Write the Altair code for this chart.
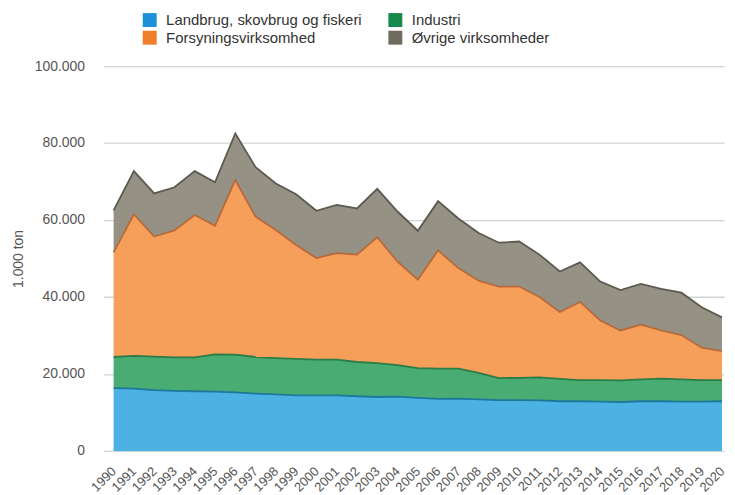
import altair as alt
import pandas as pd

years = list(range(1990, 2021))
series = ["Landbrug, skovbrug og fiskeri", "Industri", "Forsyningsvirksomhed", "Øvrige virksomheder"]

landbrug = [16.3, 16.2, 15.8, 15.6, 15.5, 15.4, 15.2, 14.9, 14.7, 14.4, 14.4, 14.4, 14.2, 14.0, 14.1, 13.8,
            13.5, 13.6, 13.4, 13.2, 13.2, 13.1, 12.9, 12.9, 12.8, 12.7, 12.9, 12.9, 12.8, 12.8, 12.9]
industri = [8.1, 8.5, 8.7, 8.7, 8.8, 9.7, 9.8, 9.5, 9.4, 9.5, 9.3, 9.3, 8.9, 8.8, 8.2, 7.7,
            7.9, 7.8, 6.9, 5.7, 5.8, 6.0, 5.8, 5.5, 5.6, 5.6, 5.7, 5.9, 5.8, 5.6, 5.5]
forsyning = [27.2, 36.8, 31.2, 33.0, 37.0, 33.4, 45.4, 36.5, 33.3, 29.6, 26.4, 27.7, 27.9, 32.7, 26.9, 23.0,
             30.7, 26.1, 23.9, 23.8, 23.7, 20.9, 17.4, 20.3, 15.5, 13.0, 14.2, 12.5, 11.5, 8.4, 7.5]
oevrige = [10.9, 11.2, 11.2, 11.2, 11.4, 11.3, 12.1, 12.8, 12.1, 13.2, 12.3, 12.5, 12.0, 12.6, 13.0, 12.7,
           12.8, 12.9, 12.4, 11.4, 11.7, 11.0, 10.5, 10.3, 10.1, 10.5, 10.6, 10.8, 11.0, 10.5, 8.8]

fill_colors = ["#42aee3", "#3ea86c", "#f59a52", "#8f8c7e"]
legend_colors = ["#1d92d8", "#17894c", "#f27d29", "#6f6b5e"]
edge_colors = ["#1d789c", "#2a7d46", "#b66a3b", "#5c5a50"]
y_ticks = [0, 20000, 40000, 60000, 80000, 100000]

rows = []
for k, (name, vals) in enumerate(zip(series, [landbrug, industri, forsyning, oevrige])):
    for yr, v in zip(years, vals):
        rows.append({"year": yr, "serie": name, "value": v * 1000, "k": k})
df = pd.DataFrame(rows)

x_enc = alt.X("year:Q", scale=alt.Scale(domain=[1989.5, 2020.1], nice=False, zero=False),
              axis=alt.Axis(values=years, format="d", labelAngle=315, labelAlign="right",
                            labelBaseline="middle", labelPadding=18, labelFontSize=13,
                            labelColor="#555555", grid=False, ticks=False, domain=False,
                            labelFont="Liberation Sans", labelOverlap=False),
              title=None)

areas = alt.Chart(df).mark_area(opacity=0.95).encode(
    x=x_enc,
    y=alt.Y("value:Q", stack="zero",
            scale=alt.Scale(domain=[0, 100000], nice=False),
            axis=alt.Axis(values=y_ticks, labelExpr="replace(format(datum.value, ','), ',', '.')",
                          labelFontSize=14, labelColor="#555555", labelFont="Liberation Sans",
                          labelPadding=19, ticks=False, domain=False, gridColor="#cfd3d6",
                          gridWidth=1.3, titleFontSize=14, titleColor="#555555",
                          titleFont="Liberation Sans", titleFontWeight="normal", titlePadding=9),
            title="1.000 ton"),
    color=alt.Color("serie:N", sort=series,
                    scale=alt.Scale(domain=series, range=fill_colors), legend=None),
    order=alt.Order("k:Q", sort="ascending"),
)

lines = alt.Chart(df).mark_line(strokeWidth=1.8).encode(
    x=x_enc,
    y=alt.Y("value:Q", stack="zero"),
    color=alt.Color("serie:N", sort=series, scale=alt.Scale(domain=series, range=edge_colors),
                    legend=None),
    order=alt.Order("k:Q", sort="ascending"),
    detail="serie:N",
)

legend_layer = alt.Chart(df).mark_square(opacity=0, size=1).encode(
    x=x_enc,
    y=alt.Y("value:Q", stack="zero"),
    color=alt.Color("serie:N", sort=series,
                    scale=alt.Scale(domain=series, range=legend_colors),
                    legend=alt.Legend(title=None, orient="none", legendX=39, legendY=-54,
                                      columns=2, symbolType="square", symbolSize=196,
                                      symbolStrokeWidth=0, symbolOpacity=1,
                                      labelFontSize=15, labelColor="#333333",
                                      labelFont="Liberation Sans", labelOffset=9,
                                      columnPadding=26, rowPadding=2, labelLimit=300,
                                      direction="horizontal")),
    order=alt.Order("k:Q", sort="ascending"),
)

chart = alt.layer(areas, lines, legend_layer).resolve_scale(color="independent").properties(
    width=624, height=387, background="white",
    padding={"left": 3, "top": 3, "right": 0, "bottom": 0},
).configure_view(stroke=None, strokeWidth=0)

chart.save("out.html", embed_options={"renderer": "svg", "actions": False})
